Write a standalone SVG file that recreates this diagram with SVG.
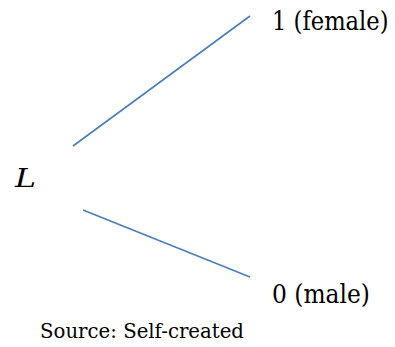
<svg xmlns="http://www.w3.org/2000/svg" width="395" height="347" viewBox="0 0 395 347">
<style>
text{font-family:'DejaVu Serif',serif;fill:#000}
.lbl{font-size:26px}
.cap{font-size:20px}
.edge{stroke:#4a7ebb;stroke-width:1.6;fill:none}
</style>
<rect width="395" height="347" fill="#fff"/>
<g id="connectors">
<line class="edge" x1="73" y1="146" x2="250" y2="16"/>
<line class="edge" x1="83" y1="210" x2="250" y2="277"/>
</g>
<g id="node-L"><text class="lbl" x="15" y="187" font-style="italic" textLength="21" lengthAdjust="spacingAndGlyphs">L</text></g>
<g id="node-1"><text class="lbl" transform="translate(272,30) scale(0.87,1)" x="0" y="0">1 (female)</text></g>
<g id="node-0"><text class="lbl" x="272" y="303" textLength="98" lengthAdjust="spacingAndGlyphs">0 (male)</text></g>
<g id="caption"><text class="cap" x="40" y="338" textLength="204" lengthAdjust="spacingAndGlyphs">Source: Self-created</text></g>
</svg>
